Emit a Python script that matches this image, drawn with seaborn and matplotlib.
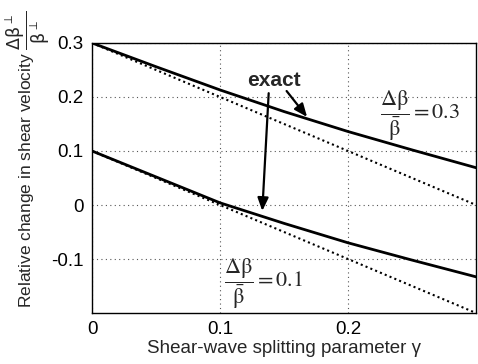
import matplotlib
matplotlib.use("Agg")
import matplotlib.pyplot as plt
import seaborn as sns

# values
gamma = [0.0, 0.05, 0.1, 0.15, 0.2, 0.25, 0.3]
exact_03 = [0.300, 0.256, 0.213, 0.173, 0.136, 0.102, 0.069]
exact_01 = [0.100, 0.052, 0.004, -0.034, -0.070, -0.102, -0.133]
gamma_lin = [0.0, 0.3]
approx_03 = [0.3, 0.0]
approx_01 = [0.1, -0.2]

x_ticks = [0, 0.1, 0.2]
x_ticklabels = ["0", "0.1", "0.2"]
y_ticks = [-0.1, 0, 0.1, 0.2, 0.3]
y_ticklabels = ["-0.1", "0", "0.1", "0.2", "0.3"]

sns.set_style("white")
plt.rcParams["font.family"] = ["Liberation Sans", "DejaVu Sans"]
plt.rcParams["font.size"] = 13

fig = plt.figure(figsize=(4.78, 3.64), dpi=100)
ax = fig.add_axes([0.1925, 0.140, 0.8035, 0.742])

dotted = (0, (1, 1.5))
sns.lineplot(x=gamma_lin, y=approx_03, ax=ax, color="black", lw=1.5, linestyle=dotted)
sns.lineplot(x=gamma_lin, y=approx_01, ax=ax, color="black", lw=1.5, linestyle=dotted)
sns.lineplot(x=gamma, y=exact_03, ax=ax, color="black", lw=2.0)
sns.lineplot(x=gamma, y=exact_01, ax=ax, color="black", lw=2.0)

ax.set_xlim(0, 0.3)
ax.set_ylim(-0.2, 0.3)
ax.set_xticks(x_ticks)
ax.set_xticklabels(x_ticklabels)
ax.set_yticks(y_ticks)
ax.set_yticklabels(y_ticklabels)
ax.tick_params(direction="out", length=4, width=1, colors="black", labelsize=13.5, pad=2)
ax.grid(True, color="#555555", linestyle=(0, (1, 3)), lw=0.8)
for s in ax.spines.values():
    s.set_color("black")
    s.set_linewidth(1.0)

ax.set_xlabel("Shear-wave splitting parameter γ", fontsize=13.5, labelpad=1)
ax.set_ylabel(r"Relative change in shear velocity "
              r"$\dfrac{\mathrm{\Delta\beta}^{\perp}}{\mathrm{\beta}^{\perp}}$",
              fontsize=12.5)
ax.yaxis.set_label_coords(-0.103, 0.57)

ax.text(0.142, 0.230, "exact", fontsize=15, fontweight="bold", ha="center", va="center")
arrow = dict(arrowstyle="-|>,head_length=0.6,head_width=0.25", color="black", lw=1.6,
             shrinkA=0, shrinkB=0)
ax.annotate("", xy=(0.168, 0.163), xytext=(0.152, 0.211), arrowprops=arrow)
ax.annotate("", xy=(0.133, -0.011), xytext=(0.138, 0.207), arrowprops=arrow)

ax.text(0.225, 0.165, r"$\dfrac{\mathrm{\Delta\beta}}{\bar{\mathrm{\beta}}}=0.3$", fontsize=16,
        math_fontfamily="stix", va="center", ha="left")
ax.text(0.103, -0.146, r"$\dfrac{\mathrm{\Delta\beta}}{\bar{\mathrm{\beta}}}=0.1$", fontsize=16,
        math_fontfamily="stix", va="center", ha="left")

fig.savefig("out.png", dpi=100)
